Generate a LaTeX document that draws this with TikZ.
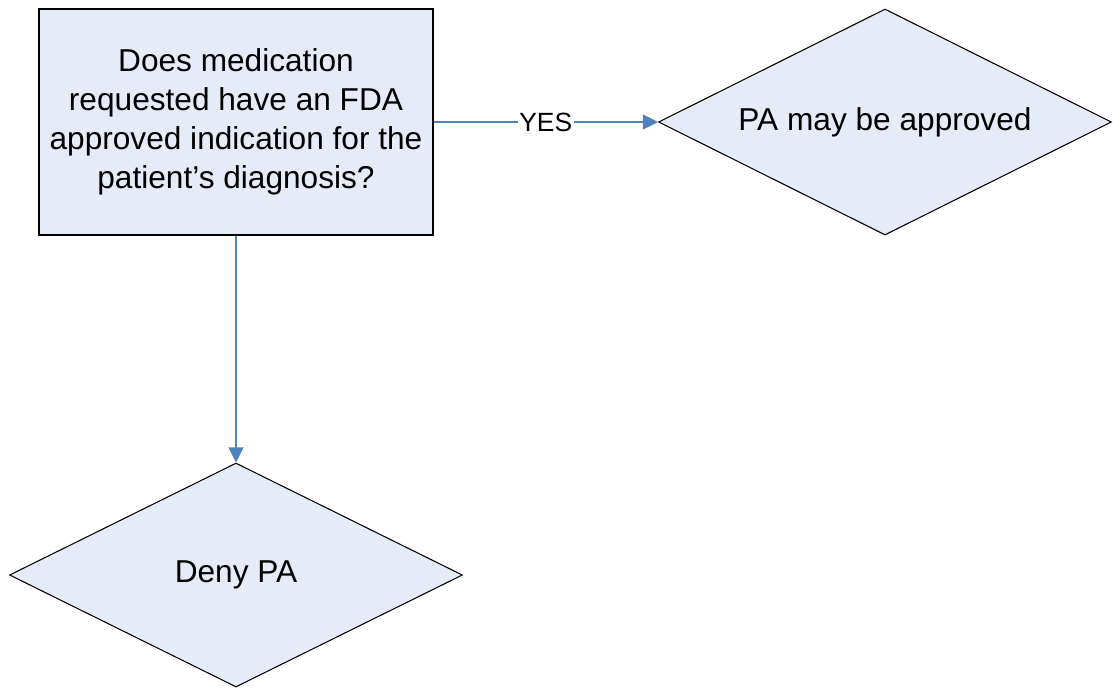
\documentclass[tikz,border=0pt]{standalone}
\usepackage{fontspec}
\setmainfont{Liberation Sans}
\usetikzlibrary{positioning, shapes.geometric, arrows.meta}
\definecolor{boxfill}{RGB}{230,236,247}
\definecolor{linkblue}{RGB}{79,129,189}

\begin{document}
\begin{tikzpicture}[
        question/.style={rectangle, draw=black, fill=boxfill, line width=0.6pt, minimum width=7.88cm, minimum height=4.52cm, align=center, font=\fontsize{18}{22.2}\selectfont},
        outcome/.style={diamond, shape aspect=2, draw=black, fill=boxfill, line width=0.6pt, inner sep=0pt, minimum width=9.06cm, minimum height=4.52cm, align=center, font=\fontsize{18}{22.2}\selectfont},
        arrow/.style={-{Triangle[length=0.3cm, width=0.3cm]}, draw=linkblue, fill=linkblue, line width=0.6pt},
        tag/.style={fill=white, inner sep=1pt, font=\fontsize{15}{18}\selectfont},
    ]
    \useasboundingbox (0,0) rectangle (22.26,-13.76);

    % ===== Question =====
    \node[question] (Q) at (4.72,-2.44) {Does medication\\requested have an FDA\\approved indication for the\\patient's diagnosis?};

    % ===== Outcomes =====
    \node[outcome] (OK) at (17.7,-2.44) {PA may be approved};
    \node[outcome, minimum height=4.48cm] (NO) at (4.72,-11.5) {Deny PA};

    \draw[arrow] (Q) -- node[tag] {YES} (OK);
    \draw[arrow] (Q) -- (NO);

\end{tikzpicture}
\end{document}
